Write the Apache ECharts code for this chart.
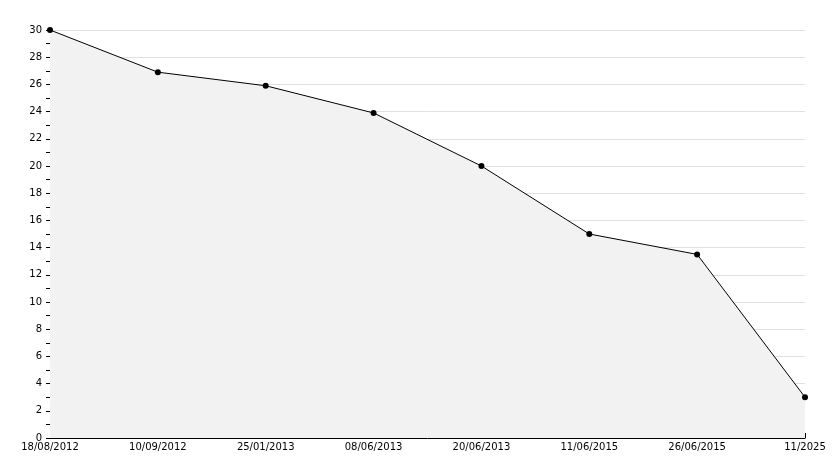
<!DOCTYPE html>
<html><head><meta charset="utf-8">
<script src="https://cdn.jsdelivr.net/npm/echarts@6/dist/echarts.min.js"></script>
<style>body{margin:0;background:#fff}#c{width:834px;height:468px}</style>
</head><body><div id="c"></div>
<script>
const dates = ["18/08/2012","10/09/2012","25/01/2013","08/06/2013","20/06/2013","11/06/2015","26/06/2015","11/2025"];
const values = [30, 26.9, 25.9, 23.9, 20, 15, 13.5, 3];
const font = { fontFamily: "DejaVu Sans", fontSize: 10, color: "#000" };

const chart = echarts.init(document.getElementById("c"));
chart.setOption({
  animation: false,
  grid: { left: 50, right: 29, top: 30, bottom: 30 },
  xAxis: {
    type: "category", data: dates, boundaryGap: false,
    axisLine: { lineStyle: { color: "#000", width: 1 } },
    axisTick: { inside: true, length: 5, lineStyle: { color: "#000" } },
    axisLabel: Object.assign({ margin: 4, showMaxLabel: true, showMinLabel: true, interval: 0 }, font),
    splitLine: { show: false }
  },
  yAxis: {
    type: "value", min: 0, max: 30, interval: 2,
    axisLine: { show: true, lineStyle: { color: "#000" } },
    axisTick: { show: true, length: 4, lineStyle: { color: "#000" } },
    minorTick: { show: true, splitNumber: 2, length: 4, lineStyle: { color: "#000" } },
    axisLabel: Object.assign({ margin: 8 }, font),
    splitLine: { lineStyle: { color: "#e0e0e0" } }
  },
  series: [{
    type: "line", data: values,
    lineStyle: { color: "#000", width: 1 },
    itemStyle: { color: "#000" },
    symbol: "circle", symbolSize: 6,
    areaStyle: { color: "#f2f2f2", opacity: 1 }
  }]
});
</script></body></html>
